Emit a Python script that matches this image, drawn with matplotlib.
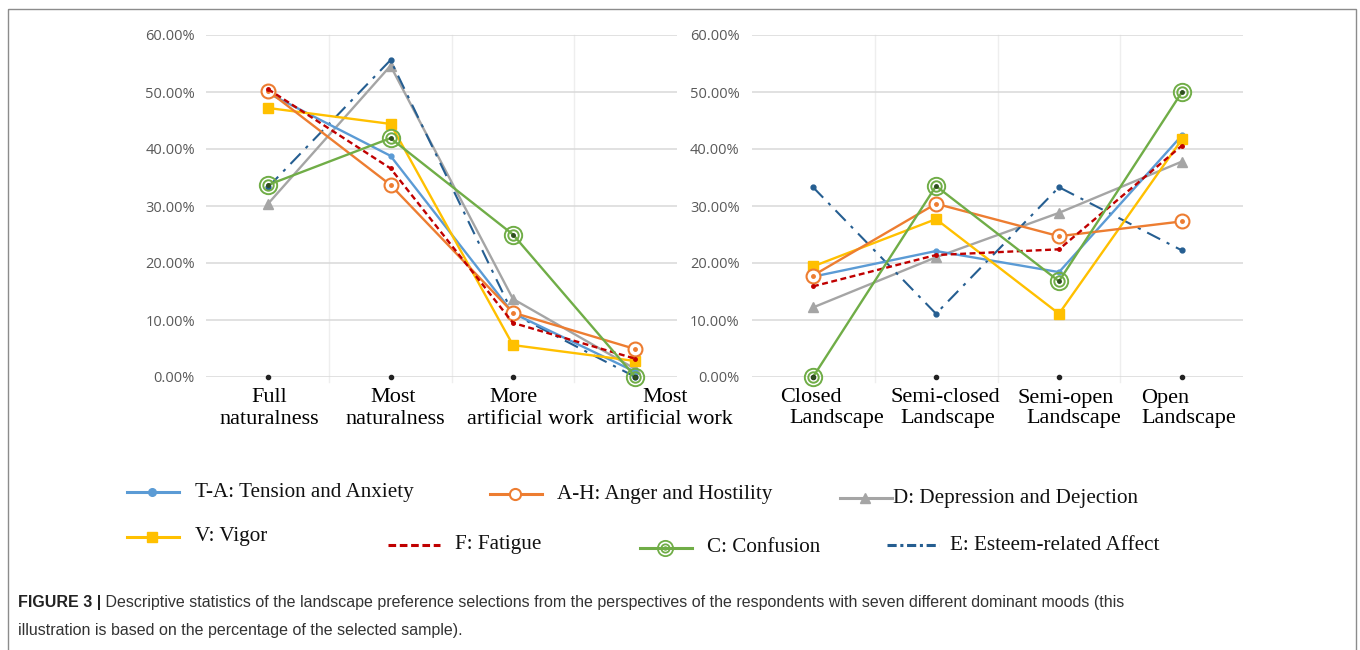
import matplotlib
matplotlib.use("Agg")
import matplotlib.pyplot as plt
from matplotlib.lines import Line2D
from matplotlib.patches import Rectangle
from matplotlib.ticker import FuncFormatter, MultipleLocator
import matplotlib.transforms as mtransforms

# ---------------- data ----------------
naturalness_categories = [["Full", "naturalness"], ["Most", "naturalness"],
                          ["More", "artificial work"], ["Most", "artificial work"]]
openness_categories = [["Closed", "Landscape"], ["Semi-closed", "Landscape"],
                       ["Semi-open", "Landscape"], ["Open", "Landscape"]]

series_names = ["T-A: Tension and Anxiety", "A-H: Anger and Hostility",
                "D: Depression and Dejection", "V: Vigor", "F: Fatigue",
                "C: Confusion", "E: Esteem-related Affect"]

# left panel: degree of naturalness (percent)
nat_TA = [49.8, 38.8, 11.2, 0.9]
nat_AH = [50.2, 33.7, 11.3, 4.9]
nat_D = [30.4, 54.6, 13.7, 1.4]
nat_V = [47.2, 44.4, 5.6, 2.8]
nat_F = [50.5, 36.6, 9.5, 3.2]
nat_C = [33.7, 41.9, 25.0, 0.0]
nat_E = [33.3, 55.6, 11.1, 0.0]

# right panel: degree of openness (percent)
open_TA = [17.6, 22.1, 18.4, 42.4]
open_AH = [17.8, 30.4, 24.7, 27.3]
open_D = [12.2, 21.0, 28.8, 37.8]
open_V = [19.4, 27.7, 11.1, 41.7]
open_F = [15.9, 21.4, 22.4, 40.6]
open_C = [0.0, 33.5, 16.8, 50.0]
open_E = [33.3, 11.1, 33.3, 22.2]

baseline = [0, 0, 0, 0]
y_ticks = [0, 10, 20, 30, 40, 50, 60]

caption_bold = "FIGURE 3 |"
caption_line1 = (" Descriptive statistics of the landscape preference selections from the "
                 "perspectives of the respondents with seven different dominant moods (this")
caption_line2 = "illustration is based on the percentage of the selected sample)."

# ---------------- styles ----------------
C_TA, C_AH, C_D, C_V, C_F, C_C, C_E = ("#5B9BD5", "#ED7D31", "#A5A5A5", "#FFC000",
                                       "#C00000", "#70AD47", "#255E91")
SERIF = ["Liberation Serif", "DejaVu Serif"]
SANS = ["Open Sans", "DejaVu Sans"]

W, H = 1360, 650
fig = plt.figure(figsize=(W / 100, H / 100), dpi=100)
fig.patch.set_facecolor("white")

# overlay axes in pixel coordinates (y from top)
ov = fig.add_axes([0, 0, 1, 1])
ov.set_xlim(0, W)
ov.set_ylim(H, 0)
ov.set_axis_off()
ov.add_patch(Rectangle((7.5, 8.5), 1348.5, 660, fill=False, edgecolor="#8c8c8c", lw=1.0))


def draw_series(ax, x, values):
    TA, AH, D, V, F, Cc, E = values
    ax.plot(x, D, color=C_D, lw=1.7, marker="^", ms=7.5, zorder=3, clip_on=False)
    ax.plot(x, E, color=C_E, lw=1.5, dashes=(7, 3.5, 1.5, 3.5), marker="o", ms=3.5,
            zorder=3, clip_on=False)
    ax.plot(x, TA, color=C_TA, lw=1.7, marker="o", ms=3.5, zorder=4, clip_on=False)
    ax.plot(x, V, color=C_V, lw=1.7, marker="s", ms=7.5, zorder=4, clip_on=False)
    ax.plot(x, AH, color=C_AH, lw=1.7, marker="o", ms=10, mfc="white", mew=1.5,
            zorder=5, clip_on=False)
    ax.plot(x, AH, ls="none", marker="o", ms=2.5, color=C_AH, zorder=5, clip_on=False)
    ax.plot(x, F, color=C_F, lw=1.7, dashes=(2.5, 1.5), marker="o", ms=2.5,
            zorder=6, clip_on=False)
    ax.plot(x, Cc, color=C_C, lw=1.7, marker="o", ms=12.5, mfc="none", mew=1.4,
            zorder=6, clip_on=False)
    ax.plot(x, Cc, ls="none", marker="o", ms=7.5, mfc="none", mec=C_C, mew=1.4,
            zorder=6, clip_on=False)
    ax.plot(x, baseline, ls="none", marker="o", ms=3, color="#222222", zorder=7,
            clip_on=False)
    ax.plot(x, Cc, ls="none", marker="o", ms=2.5, color="#2f4f1f", zorder=7, clip_on=False)


def style_axes(ax, xlim, pad):
    ax.set_facecolor("none")
    ax.set_ylim(0, 60)
    ax.set_xlim(*xlim)
    ax.yaxis.set_major_locator(MultipleLocator(10))
    ax.yaxis.set_major_formatter(FuncFormatter(lambda v, p: f"{v:.2f}%"))
    ax.set_yticks(y_ticks)
    ax.set_xticks([])
    for s in ax.spines.values():
        s.set_visible(False)
    ax.tick_params(axis="y", length=0, pad=pad, labelcolor="#595959", labelsize=10.5)
    for lab in ax.get_yticklabels():
        lab.set_family(SANS)
    for yv in y_ticks:
        ax.axhline(yv, color="#D9D9D9", lw=1.1, zorder=1)
    for xv in [0.5, 1.5, 2.5]:
        ax.plot([xv, xv], [-0.9, 60], color="#EEEEEE", lw=1.0, zorder=0.5, clip_on=False)


def px(x0, y_top, w, h):
    return [x0 / W, 1 - (y_top + h) / H, w / W, h / H]


x = [0, 1, 2, 3]

axL = fig.add_axes(px(206, 35, 471, 342))
style_axes(axL, (-0.507, 3.34), 8)
draw_series(axL, x, [nat_TA, nat_AH, nat_D, nat_V, nat_F, nat_C, nat_E])

axR = fig.add_axes(px(752, 35, 491, 342))
style_axes(axR, (-0.496, 3.496), 9)
draw_series(axR, x, [open_TA, open_AH, open_D, open_V, open_F, open_C, open_E])

# category labels (two lines each, per-line horizontal offsets in px)
left_offsets = [(1, 1), (3, 5), (0, 17), (30, 34)]
right_offsets = [(-2, 24), (9, 12), (7, 15), (-17, 7)]
for ax, cats, offs, spacing in [(axL, naturalness_categories, left_offsets, 122.4),
                               (axR, openness_categories, right_offsets, 123.0)]:
    tr = mtransforms.blended_transform_factory(ax.transData, ov.transData)
    for i, ((l1, l2), (o1, o2)) in enumerate(zip(cats, offs)):
        ax.text(i + o1 / spacing, 398, l1, transform=tr, ha="center", va="center",
                family=SERIF, fontsize=16, color="black")
        ax.text(i + o2 / spacing, 419, l2, transform=tr, ha="center", va="center",
                family=SERIF, fontsize=16, color="black")

# legend (manual placement, pixel coordinates)
legend_items = [
    (127, 492, 195, dict(color=C_TA, marker="o", ms=5.5)),
    (490, 494, 557, dict(color=C_AH, marker="o", ms=8, mfc="white", mew=1.5)),
    (840, 498, 893, dict(color=C_D, marker="^", ms=7)),
    (127, 537, 195, dict(color=C_V, marker="s", ms=6.5)),
    (388, 545, 455, dict(color=C_F, dashes=(2.5, 1.2))),
    (640, 548, 707, dict(color=C_C, marker="o", ms=11, mfc="none", mew=1.3)),
    (887, 545, 950, dict(color=C_E, dashes=(3, 1.2, 1, 1.2))),
]
for (hx, hy, tx, kw), name in zip(legend_items, series_names):
    ov.add_line(Line2D([hx, hx + 52], [hy, hy], lw=2.2, **{k: v for k, v in kw.items()
                                                           if k in ("color", "dashes")}))
    if "marker" in kw:
        mk = {k: v for k, v in kw.items() if k != "dashes"}
        ov.add_line(Line2D([hx + 25], [hy], ls="none", **mk))
    ov.text(tx, hy, name, ha="left", va="center", family=SERIF, fontsize=15.2, color="#111111")
# inner ring of the Confusion legend marker
ov.add_line(Line2D([640 + 25], [548], ls="none", marker="o", ms=6, mfc="none",
                   mec=C_C, mew=1.3))
ov.add_line(Line2D([640 + 25], [548], ls="none", marker="o", ms=2.2, color=C_C))

# caption
CAP = ["Liberation Sans Narrow", "Liberation Sans", "DejaVu Sans"]
t = ov.text(18, 603, caption_bold, ha="left", va="center", family=CAP,
            fontsize=11.5, fontweight="bold", color="#222222")
fig.canvas.draw()
bb = t.get_window_extent()
ov.text(18 + bb.width, 603, caption_line1, ha="left", va="center", family=CAP,
        fontsize=11.5, color="#333333")
ov.text(18, 630, caption_line2, ha="left", va="center", family=CAP,
        fontsize=11.5, color="#333333")

fig.savefig("out.png", dpi=100, facecolor="white")
